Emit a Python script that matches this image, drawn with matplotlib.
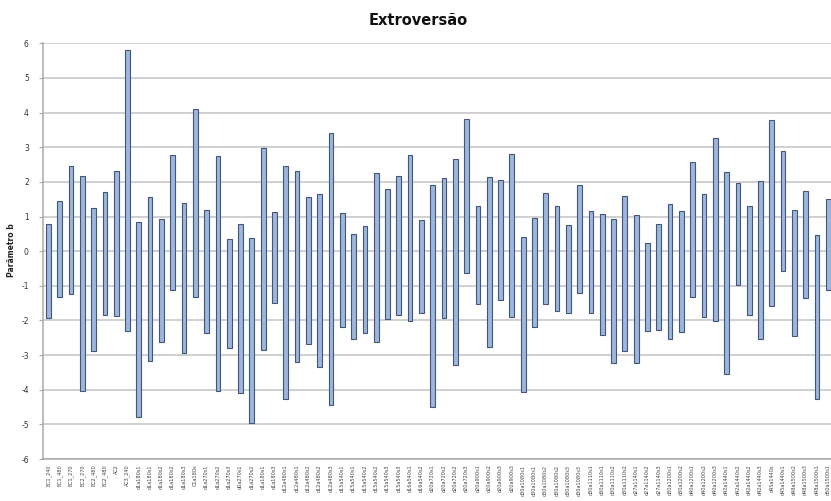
import matplotlib
matplotlib.use("Agg")
import matplotlib.pyplot as plt
import numpy as np

plt.rcParams["axes.unicode_minus"] = False

# Item labels (one per bar)
labels = [
    "EC1_240", "EC1_480", "EC1_270", "EC2_270", "EC2_480", "EC2_480", "AC2", "AC3_240",
    "d1a180s1", "d1a180s1", "d1a180s2", "d1a180s2", "d1a180s3", "C1a180s", "d1a270s1",
    "d1a270s2", "d1a270s3", "d0a270s1", "d1a270s2", "d1a180s1", "d1a180s3",
    "d12a480s1", "d12a480s1", "d12a480s2", "d12a480s2", "d12a480s3", "d15a540s1",
    "d15a540s1", "d15a540s2", "d15a540s2", "d15a540s3", "d15a540s3", "d16a540s1",
    "d16a540s2", "d20a720s1", "d20a720s2", "d20a720s2", "d20a720s3", "d20a900s1",
    "d20a900s2", "d20a900s3", "d20a900s3", "d30a1080s1", "d30a1080s1", "d30a1080s2",
    "d30a1080s2", "d30a1080s3", "d30a1080s3", "d30a1110s1", "d30a1110s1", "d30a1110s2",
    "d30a1110s2", "d27a1140s1", "d27a1140s2", "d27a1140s3", "d30a1200s1", "d30a1200s2",
    "d40a1200s1", "d40a1200s2", "d40a1200s3", "d42a1440s1", "d42a1440s2", "d42a1440s2",
    "d42a1440s3", "d45a1440s", "d45a1440s1", "d48a1500s2", "d48a1500s3", "d48a1500s1",
    "d50a1500s1",
]

# Upper and lower ends of each bar (parâmetro b)
b_high = [
    0.79, 1.45, 2.47, 2.18, 1.26, 1.71, 2.32, 5.82, 0.84, 1.56,
    0.93, 2.79, 1.38, 4.09, 1.18, 2.74, 0.36, 0.78, 0.38, 2.97,
    1.12, 2.45, 2.31, 1.56, 1.65, 3.41, 1.10, 0.50, 0.72, 2.27,
    1.79, 2.18, 2.78, 0.89, 1.91, 2.11, 2.65, 3.82, 1.29, 2.15,
    2.05, 2.80, 0.42, 0.97, 1.68, 1.29, 0.77, 1.91, 1.17, 1.06,
    0.94, 1.60, 1.04, 0.25, 0.79, 1.37, 1.15, 2.56, 1.65, 3.26,
    2.30, 1.96, 1.29, 2.03, 3.80, 2.89, 1.19, 1.73, 0.48, 1.52,
]
b_low = [
    -1.93, -1.33, -1.25, -4.05, -2.87, -1.84, -1.88, -2.29, -4.79, -3.17,
    -2.63, -1.13, -2.93, -1.32, -2.37, -4.05, -2.80, -4.08, -4.97, -2.84,
    -1.49, -4.28, -3.20, -2.67, -3.33, -4.45, -2.18, -2.54, -2.36, -2.61,
    -1.96, -1.85, -2.03, -1.79, -4.50, -1.93, -3.28, -0.62, -1.52, -2.76,
    -1.42, -1.89, -4.07, -2.18, -1.52, -1.74, -1.79, -1.21, -1.78, -2.42,
    -3.23, -2.87, -3.23, -2.29, -2.28, -2.53, -2.33, -1.33, -1.90, -2.03,
    -3.54, -0.99, -1.85, -2.53, -1.58, -0.56, -2.46, -1.36, -4.28, -1.12,
]

x = np.arange(len(labels))
low = np.array(b_low)
high = np.array(b_high)

fig = plt.figure(figsize=(8.31, 5.01), dpi=100)
ax = fig.add_axes([0.0514, 0.0838, 0.9522, 0.8297])

ax.bar(x, high - low, bottom=low, width=0.42, color="#9CB6DD",
       edgecolor="#42567A", linewidth=0.8, zorder=3)

ax.set_xlim(-0.5, len(labels) - 0.5)
ax.set_ylim(-6, 6)
ax.set_yticks(np.arange(-6, 7, 1))
ax.yaxis.grid(True, color="#C4C4C4", linewidth=1.1, zorder=0)
ax.set_axisbelow(True)

for s in ["top", "right"]:
    ax.spines[s].set_visible(False)
for s in ["left", "bottom"]:
    ax.spines[s].set_color("#A8A8A8")
    ax.spines[s].set_linewidth(1.1)

ax.tick_params(axis="y", labelsize=5.5, length=3, color="#A8A8A8",
               labelcolor="#333333", pad=7)
ax.set_xticks(x)
ax.set_xticklabels(labels, rotation=90, fontsize=3.6, color="#444444")
ax.tick_params(axis="x", length=0, pad=4)

fig.text(12 / 831, 0.5, "Parâmetro b", rotation=90, ha="center", va="center",
         fontsize=5.5, fontweight="bold", color="#222222")
fig.suptitle("Extroversão", x=0.503, y=0.975, fontsize=10.5, fontweight="bold",
             color="#111111")

fig.savefig("out.png", dpi=100)
